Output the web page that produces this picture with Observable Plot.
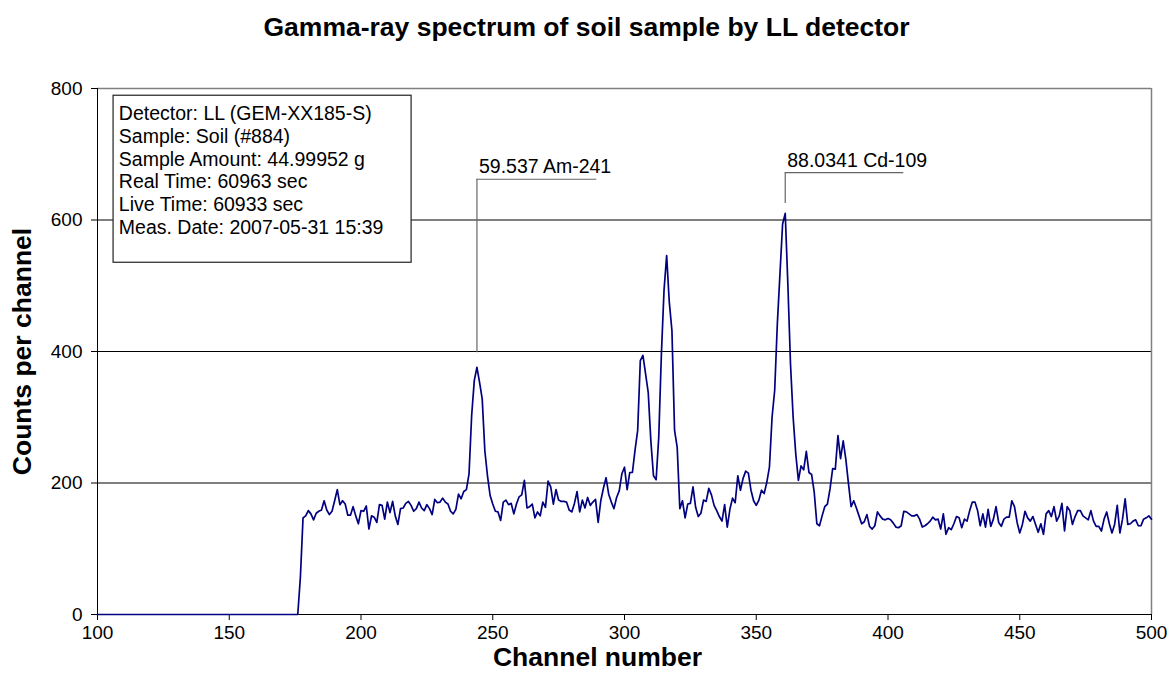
<!DOCTYPE html>
<html><head><meta charset="utf-8">
<script src="https://cdn.jsdelivr.net/npm/d3@7"></script>
<script src="https://cdn.jsdelivr.net/npm/@observablehq/plot@0.6"></script>
<style>body{margin:0;background:#fff}</style>
</head><body><div id="chart"></div>
<script>
const titleText = "Gamma-ray spectrum of soil sample by LL detector";
const xLabel = "Channel number";
const yLabel = "Counts per channel";
const xTicks = [100, 150, 200, 250, 300, 350, 400, 450, 500];
const yTicks = [0, 200, 400, 600, 800];
const gridValues = [200, 400, 600];
const firstChannel = 100;
// counts per channel, channel 100 .. 500
const counts = [
0,0,0,0,0,0,0,0,0,0, 0,0,0,0,0,0,0,0,0,0, 0,0,0,0,0,0,0,0,0,0,
0,0,0,0,0,0,0,0,0,0, 0,0,0,0,0,0,0,0,0,0, 0,0,0,0,0,0,0,0,0,0,
0,0,0,0,0,0,0,0,0,0, 0,0,0,0,0,0,0,
57,147,150,158,153,144,154,157,159,173,159,152,157,173,190,167,173,168,151,151,164,150,138,
158,157,165,130,150,148,140,167,166,145,171,155,172,150,137,161,162,169,172,166,157,161,171,162,158,167,161,152,175,170,
171,177,171,168,157,153,160,183,176,187,190,214,303,356,376,353,328,249,211,181,
168,157,156,143,171,174,167,169,153,168,179,182,204,162,164,168,147,156,150,171,
163,203,194,168,190,174,172,172,171,159,156,169,187,156,174,162,178,166,171,175,
140,173,192,208,183,171,161,178,188,214,224,190,216,216,250,280,386,394,366,338,
264,211,205,270,396,493,546,475,432,280,254,161,173,147,168,169,194,163,149,154,
174,172,192,182,166,158,149,142,167,133,160,177,170,211,189,207,218,215,189,173,
166,174,189,184,201,224,300,341,442,518,594,610,502,381,300,244,204,226,220,248,
216,213,186,138,135,150,164,168,191,222,221,272,237,264,236,199,164,173,162,150,
138,141,152,134,130,135,156,150,145,144,146,
144,139,133,132,135,157,156,153,150,150,152,145,133,135,138,142,148,144,145,130,
153,122,132,129,138,149,147,132,145,142,158,171,171,158,135,153,133,160,134,145,
164,140,134,145,148,148,173,164,140,124,137,157,147,142,149,137,125,138,122,153,
158,149,164,142,150,169,127,164,158,137,149,158,158,150,147,144,158,142,134,134,
127,145,156,138,124,137,166,124,145,176,137,138,142,144,135,135,145,147,150,145
];
const infoLines = [
  "Detector: LL (GEM-XX185-S)",
  "Sample: Soil (#884)",
  "Sample Amount: 44.99952 g",
  "Real Time: 60963 sec",
  "Live Time: 60933 sec",
  "Meas. Date: 2007-05-31 15:39"
];
const peakLabels = ["59.537 Am-241", "88.0341 Cd-109"];
const peakChannels = [244, 361];

const data = counts.map((v, i) => ({channel: firstChannel + i, count: v}));
// leader lines for peak annotations (data coordinates)
const leaders = [
  {x: peakChannels[0], yLow: 398, yHigh: 662, xEnd: 289.5, label: peakLabels[0], ty: 681},
  {x: peakChannels[1], yLow: 625, yHigh: 672, xEnd: 406, label: peakLabels[1], ty: 690.5}
];
const FONT = "Liberation Sans, Arial, sans-serif";

const chart = Plot.plot({
  width: 1175, height: 693,
  marginLeft: 97, marginRight: 24, marginTop: 88, marginBottom: 79,
  style: {fontFamily: FONT, fontSize: "19px", background: "white", color: "black"},
  x: {domain: [100, 500], label: null},
  y: {domain: [0, 800], label: null},
  marks: [
    Plot.ruleY(gridValues, {stroke: "black", strokeWidth: 1}),
    Plot.ruleY([800], {stroke: "#808080", strokeWidth: 1.5}),
    Plot.ruleX([500], {stroke: "#808080", strokeWidth: 1.5}),
    Plot.axisY({ticks: yTicks, tickSize: 6, tickPadding: 9, tickFormat: d => String(d), fontSize: 19, label: null}),
    Plot.axisX({ticks: xTicks, tickSize: 6, tickPadding: 5, tickFormat: d => String(d), fontSize: 19, label: null}),
    Plot.ruleX([100], {stroke: "black", strokeWidth: 1}),
    Plot.ruleY([0], {stroke: "black", strokeWidth: 1}),
    Plot.line(data, {x: "channel", y: "count", stroke: "#000080", strokeWidth: 1.7}),
    // leader lines
    Plot.ruleX(leaders, {x: "x", y1: "yLow", y2: "yHigh", stroke: "#666", strokeWidth: 1.2}),
    Plot.ruleY(leaders, {y: "yHigh", x1: "x", x2: "xEnd", stroke: "#666", strokeWidth: 1.2}),
    Plot.text(leaders, {x: "x", y: "ty", text: "label", textAnchor: "start", lineAnchor: "middle", dx: 2, fontSize: 19.5, fill: "black"}),
    // info box
    Plot.rect([{}], {x1: 106.1, x2: 219.2, y1: 535, y2: 789, fill: "white", stroke: "#222", strokeWidth: 1.2}),
    Plot.text([infoLines.join("\n")], {x: 108.1, y: 789, textAnchor: "start", lineAnchor: "top", lineHeight: 1.17, dy: 8, fontSize: 19.5, fill: "black"}),
    // titles
    Plot.text([titleText], {frameAnchor: "top", textAnchor: "middle", dx: -38, dy: -61, lineAnchor: "middle", fontSize: 26.5, fontWeight: "bold", fill: "black"}),
    Plot.text([yLabel], {frameAnchor: "left", textAnchor: "middle", dx: -75, rotate: -90, lineAnchor: "middle", fontSize: 26.5, fontWeight: "bold", fill: "black"}),
    Plot.text([xLabel], {frameAnchor: "bottom", textAnchor: "middle", dx: -27, dy: 43, lineAnchor: "middle", fontSize: 26.5, fontWeight: "bold", fill: "black"})
  ]
});
document.getElementById("chart").appendChild(chart);
</script>
</body></html>
